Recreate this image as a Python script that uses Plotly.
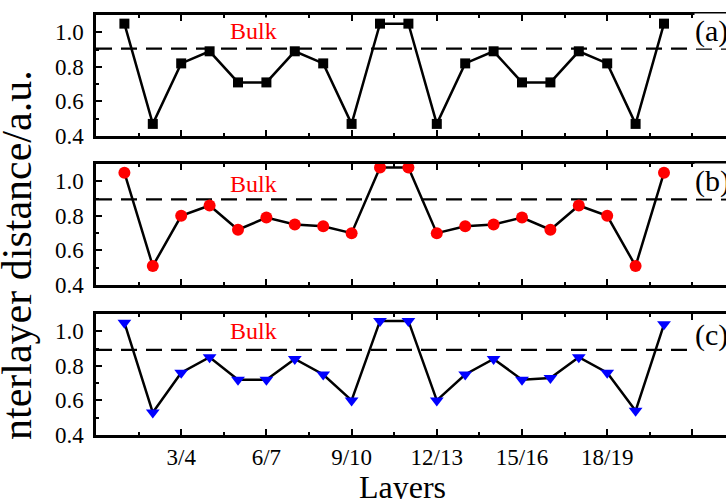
import plotly.graph_objects as go

# ---------------- data ----------------
layers = list(range(1, 21))
tick_vals = [3, 6, 9, 12, 15, 18, 21]
tick_text = ["3/4", "6/7", "9/10", "12/13", "15/16", "18/19", ""]

dist_a = [1.05, 0.47, 0.82, 0.89, 0.71, 0.71, 0.89, 0.82, 0.47, 1.05,
          1.05, 0.47, 0.82, 0.89, 0.71, 0.71, 0.89, 0.82, 0.47, 1.05]
dist_b = [1.05, 0.51, 0.80, 0.86, 0.72, 0.79, 0.75, 0.74, 0.70, 1.08,
          1.08, 0.70, 0.74, 0.75, 0.79, 0.72, 0.86, 0.80, 0.51, 1.05]
dist_c = [1.05, 0.53, 0.76, 0.85, 0.72, 0.72, 0.84, 0.75, 0.60, 1.06,
          1.06, 0.60, 0.75, 0.84, 0.72, 0.73, 0.85, 0.76, 0.54, 1.04]
bulk_values = [0.905, 0.895, 0.893]
panel_labels = ["(a)", "(b)", "(c)"]
bulk_label = "Bulk"

series = [dist_a, dist_b, dist_c]
symbols = ["square", "circle", "triangle-down"]
colors = ["black", "red", "blue"]
sizes = [10, 12, 12]

FONT = "Liberation Serif"
W, H = 726, 499
ML, MR, MT, MB = 96, 0, 15, 64
plot_h = H - MT - MB
plot_w = W - ML - MR

# panel pixel extents (top, bottom)
panel_px = [(15, 136), (164, 285), (314, 435)]
def ydom(top, bot):
    return [(H - MB - bot) / plot_h, (H - MB - top) / plot_h]

XR = [0, plot_w / 28.4]
YR = [0.4, 1.1]

fig = go.Figure()
for i, (vals, sym, col, sz) in enumerate(zip(series, symbols, colors, sizes)):
    n = "" if i == 0 else str(i + 1)
    fig.add_trace(go.Scatter(
        x=layers, y=vals, mode="lines+markers",
        line=dict(color="black", width=2.5),
        marker=dict(symbol=sym, color=col, size=sz, line=dict(width=0)),
        xaxis="x" + n, yaxis="y" + n, showlegend=False, cliponaxis=False))

layout = dict(width=W, height=H, margin=dict(l=ML, r=MR, t=MT, b=MB),
              paper_bgcolor="white", plot_bgcolor="white",
              font=dict(family=FONT, color="black"))

for i in range(3):
    n = "" if i == 0 else str(i + 1)
    layout["xaxis" + n] = dict(
        domain=[0, 1], range=XR, anchor="y" + n,
        tickmode="array", tickvals=tick_vals, ticktext=tick_text,
        showticklabels=(i == 2), tickfont=dict(family=FONT, size=23, color="black"),
        ticks="inside", ticklen=6, tickwidth=2, tickcolor="black",
        minor=dict(ticks="inside", ticklen=3.5, tickwidth=2, tickcolor="black",
                   tick0=0, dtick=1.5),
        showline=True, linewidth=2.5, linecolor="black", mirror="ticks",
        showgrid=False, zeroline=False, fixedrange=True)
    layout["yaxis" + n] = dict(
        domain=ydom(*panel_px[i]), range=YR, anchor="x" + n,
        tickmode="array", tickvals=[0.4, 0.6, 0.8, 1.0],
        ticktext=["0.4", "0.6", "0.8", "1.0"],
        tickfont=dict(family=FONT, size=23, color="black"),
        ticks="inside", ticklen=6, tickwidth=2, tickcolor="black",
        minor=dict(ticks="inside", ticklen=3.5, tickwidth=2, tickcolor="black",
                   tickvals=[0.5, 0.7, 0.9]),
        ticklabelstandoff=5,
        showline=True, linewidth=2.5, linecolor="black", mirror=False,
        showgrid=False, zeroline=False, fixedrange=True)

fig.update_layout(**layout)

shapes = []
annotations = []
bulk_y = [1.005, 0.985, 1.0]
label_y = [1.01, 1.0, 0.98]
for i in range(3):
    n = "" if i == 0 else str(i + 1)
    shapes.append(dict(type="line", xref="x" + n, yref="y" + n,
                       x0=0.0, x1=XR[1], y0=bulk_values[i], y1=bulk_values[i],
                       line=dict(color="black", width=2.2, dash="16px,9px"),
                       layer="below"))
    annotations.append(dict(text=bulk_label, xref="x" + n, yref="y" + n,
                            x=5.53, y=bulk_y[i], showarrow=False,
                            font=dict(family=FONT, size=24, color="red"),
                            bgcolor="white", borderpad=0))
    annotations.append(dict(text=panel_labels[i], xref="x" + n, yref="y" + n,
                            x=21.05, y=label_y[i], xanchor="left", showarrow=False,
                            font=dict(family=FONT, size=30, color="black"),
                            bgcolor="white", borderpad=0))

annotations.append(dict(text="Layers", xref="paper", yref="paper",
                        x=(402 - ML) / plot_w, y=(H - MB - 467) / plot_h,
                        xanchor="center", yanchor="top", showarrow=False,
                        font=dict(family=FONT, size=32, color="black")))
annotations.append(dict(text="nterlayer distance/a.u.", xref="paper", yref="paper",
                        x=(17 - ML) / plot_w, y=(H - MB - 255) / plot_h,
                        xanchor="center", yanchor="middle", textangle=-90,
                        showarrow=False,
                        font=dict(family=FONT, size=42, color="black")))
fig.update_layout(shapes=shapes, annotations=annotations)

fig.write_html("out.html")
